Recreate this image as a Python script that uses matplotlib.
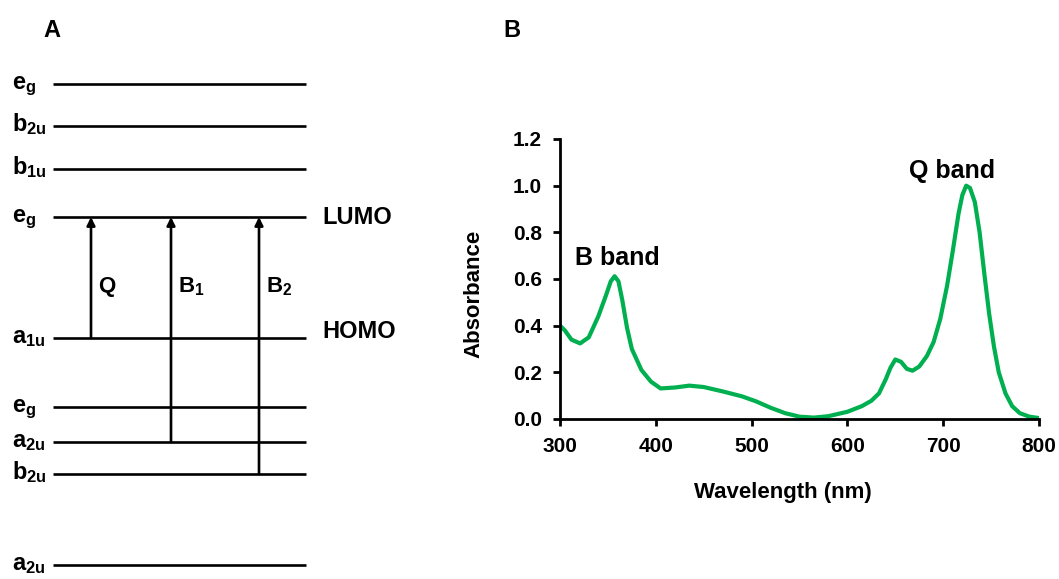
import matplotlib.pyplot as plt

plt.rcParams['font.family'] = ['Liberation Sans', 'DejaVu Sans']
plt.rcParams['font.weight'] = 'bold'
plt.rcParams['mathtext.fontset'] = 'custom'
plt.rcParams['mathtext.rm'] = 'Liberation Sans:bold'
plt.rcParams['mathtext.it'] = 'Liberation Sans:bold'
plt.rcParams['mathtext.bf'] = 'Liberation Sans:bold'

# Panel A: orbital levels (relative energy, diagram units)
level_labels = ['$e_g$', '$b_{2u}$', '$b_{1u}$', '$e_g$', '$a_{1u}$',
                '$e_g$', '$a_{2u}$', '$b_{2u}$', '$a_{2u}$']
level_energy = [495, 453, 410, 362, 241, 172, 137, 105, 14]
lumo_idx = 3
homo_idx = 4

# transitions: (label, start level, end level, x position)
trans_labels = ['Q', '$B_1$', '$B_2$']
trans_from = [4, 6, 7]
trans_to = [3, 3, 3]
trans_x = [91, 171, 259]

# Panel B: absorption spectrum
wavelength = [300, 305, 312, 321, 330, 340, 348, 353, 357, 361, 365, 370, 375,
              385, 395, 405, 420, 435, 450, 470, 490, 505, 520, 535, 550, 565,
              580, 600, 615, 625, 633, 640, 645, 650, 656, 662, 668, 675, 683,
              690, 697, 704, 710, 716, 720, 724, 728, 733, 738, 743, 748, 753,
              758, 765, 772, 780, 790, 800]
absorbance = [0.40, 0.38, 0.34, 0.324, 0.35, 0.44, 0.53, 0.59, 0.612, 0.59,
              0.51, 0.39, 0.30, 0.21, 0.16, 0.131, 0.135, 0.143, 0.137, 0.118,
              0.097, 0.075, 0.048, 0.025, 0.010, 0.006, 0.012, 0.031, 0.055,
              0.078, 0.11, 0.17, 0.22, 0.255, 0.245, 0.215, 0.207, 0.225,
              0.27, 0.33, 0.43, 0.57, 0.72, 0.88, 0.96, 1.0, 0.99, 0.93, 0.80,
              0.62, 0.45, 0.31, 0.20, 0.11, 0.055, 0.025, 0.010, 0.004]

x_ticks = [300, 400, 500, 600, 700, 800]
y_ticks = [0.0, 0.2, 0.4, 0.6, 0.8, 1.0, 1.2]

fig = plt.figure(figsize=(10.59, 5.79), dpi=100)

# ---- panel A ----
axa = fig.add_axes([0, 0, 0.4, 1])
axa.set_xlim(0, 423.6)
axa.set_ylim(0, 579)
axa.axis('off')

for lab, e in zip(level_labels, level_energy):
    axa.plot([53, 306], [e, e], color='black', lw=1.9, solid_capstyle='butt')
    axa.text(12, e - 5, lab, fontsize=17, ha='left', va='baseline')

axa.text(322, level_energy[lumo_idx], 'LUMO', fontsize=17, ha='left', va='center')
axa.text(322, level_energy[homo_idx], 'HOMO', fontsize=17, ha='left', va='baseline')

for lab, i0, i1, x in zip(trans_labels, trans_from, trans_to, trans_x):
    axa.annotate('', xy=(x, level_energy[i1]), xytext=(x, level_energy[i0]),
                 arrowprops=dict(arrowstyle='-|>', color='black', lw=1.9,
                                 mutation_scale=12, shrinkA=0, shrinkB=0))
    axa.text(x + 7, 287, lab, fontsize=16, ha='left', va='baseline')

fig.text(43 / 1059, 1 - 37 / 579, 'A', fontsize=17, va='baseline')
fig.text(503 / 1059, 1 - 37 / 579, 'B', fontsize=17, va='baseline')

# ---- panel B ----
axb = fig.add_axes([560 / 1059, 1 - 419 / 579, 479 / 1059, 280 / 579])
axb.plot(wavelength, absorbance, color='#00b050', lw=3)
axb.set_xlim(300, 800)
axb.set_ylim(0, 1.2)
axb.set_xticks(x_ticks)
axb.set_yticks(y_ticks)
axb.set_yticklabels([f'{v:.1f}' for v in y_ticks])
for s in ['top', 'right']:
    axb.spines[s].set_visible(False)
for s in ['left', 'bottom']:
    axb.spines[s].set_linewidth(2)
axb.tick_params(direction='out', length=5, width=2, labelsize=15, pad=8)
axb.set_xlabel('Wavelength (nm)', fontsize=16, fontweight='bold')
axb.set_ylabel('Absorbance', fontsize=16, fontweight='bold')
axb.xaxis.set_label_coords(0.466, -0.225)
axb.yaxis.set_label_coords(-0.157, 0.446)

axb.text(360, 0.66, 'B band', fontsize=18, ha='center', va='baseline')
axb.text(709, 1.033, 'Q band', fontsize=18, ha='center', va='baseline')

fig.savefig('out.png', dpi=100)
